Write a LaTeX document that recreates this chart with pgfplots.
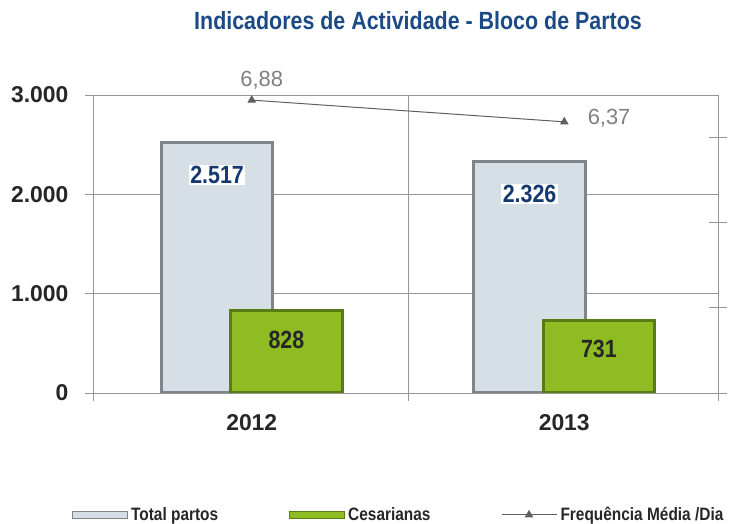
\documentclass[border=0pt]{standalone}
\usepackage{pgfplots}
\pgfplotsset{compat=1.18}
\usepackage{fontspec}
\setmainfont{Liberation Sans}[FakeStretch=0.86]
\newfontfamily\widefont{Liberation Sans}
\definecolor{gridgray}{RGB}{150,150,150}
\definecolor{titleblue}{RGB}{28,74,134}
\definecolor{lblblue}{RGB}{22,56,112}
\definecolor{totFill}{RGB}{214,222,230}
\definecolor{totEdge}{RGB}{128,133,140}
\definecolor{grnFill}{RGB}{142,188,34}
\definecolor{grnEdge}{RGB}{88,124,20}
\definecolor{linegray}{RGB}{95,95,95}
\definecolor{lbl2gray}{RGB}{128,128,128}
\definecolor{darktext}{RGB}{38,38,38}
\begin{document}
\begin{tikzpicture}
\useasboundingbox (0,0) rectangle (745bp,524bp);
\begin{axis}[
  at={(93bp,131bp)}, anchor=south west,
  scale only axis, width=625bp, height=298bp,
  xmin=-0.508, xmax=1.492, ymin=0, ymax=3000,
  axis line style={gridgray, line width=0.8bp},
  xtick={0,1}, xticklabels={2012,2013},
  minor xtick={-0.508,0.5,1.492},
  xminorgrids,
  ytick={0,1000,2000,3000}, yticklabels={0,1.000,2.000,3.000},
  ymajorgrids,
  grid style={gridgray, line width=0.8bp},
  minor grid style={gridgray, line width=0.8bp},
  tick pos=left, tick align=outside,
  major x tick style={draw=none},
  tick style={gridgray, line width=0.8bp},
  major tick length=8bp, minor tick length=8bp,
  /pgf/number format/assume math mode=true,
  tick label style={font=\widefont\fontsize{23}{27}\selectfont\bfseries, text=darktext},
  yticklabel style={xshift=-13bp},
  xticklabel style={yshift=-10bp},
  title={Indicadores de Actividade - Bloco de Partos},
  title style={at={(0.52,1.228)}, anchor=center, font=\fontsize{25}{30}\selectfont\bfseries, text=titleblue},
  legend columns=3,
  legend style={at={(0.49,-0.409)}, anchor=center, draw=none, fill=none,
    font=\fontsize{18}{21}\selectfont\bfseries, text=darktext,
    nodes={inner xsep=3bp},
    /tikz/every even column/.append style={column sep=68bp}},
]
\addplot[ybar, bar width=0.356, bar shift=-0.111, fill=totFill, draw=totEdge, line width=3bp,
  nodes near coords,
  nodes near coords style={font=\fontsize{25}{30}\selectfont\bfseries, text=lblblue, fill=white, inner sep=1.5bp, anchor=center, xshift=-34.7bp, yshift=-32bp},
  /pgf/number format/1000 sep={.},
  /pgf/number format/assume math mode=true,
  legend image code/.code={\fill[totFill, draw=totEdge, line width=1bp] (0bp,-3.5bp) rectangle (55bp,3.5bp);}
] coordinates {(0,2517) (1,2326)};
\addlegendentry{Total partos}
\addplot[ybar, bar width=0.356, bar shift=0.111, fill=grnFill, draw=grnEdge, line width=3bp,
  nodes near coords,
  nodes near coords style={font=\fontsize{25}{30}\selectfont\bfseries, text=darktext, anchor=center, xshift=34.7bp, yshift=-29bp},
  /pgf/number format/assume math mode=true,
  legend image code/.code={\fill[grnFill, draw=grnEdge, line width=1bp] (0bp,-3.5bp) rectangle (55bp,3.5bp);}
] coordinates {(0,828) (1,731)};
\addlegendentry{Cesarianas}
\addlegendimage{legend image code/.code={\draw[linegray, line width=1bp, mark=triangle*, mark size=4bp, mark repeat=2, mark phase=2] plot coordinates {(0bp,0bp) (27bp,0bp) (55bp,0bp)};}}
\addlegendentry{Frequência Média /Dia}
\end{axis}
\begin{axis}[
  at={(93bp,131bp)}, anchor=south west,
  scale only axis, width=625bp, height=298bp,
  xmin=-0.508, xmax=1.492, ymin=0, ymax=7,
  clip=false,
  axis x line=none, axis y line*=right,
  ytick={0,2,4,6}, yticklabels={},
  tick align=center, major tick length=18bp,
  y axis line style={gridgray, line width=0.8bp},
  tick style={gridgray, line width=0.8bp},
]
\addplot[linegray, line width=1bp, mark=triangle*, mark size=4bp] coordinates {(0,6.88) (1,6.37)};
\node[font=\widefont\fontsize{22}{26}\selectfont, text=lbl2gray, anchor=south, xshift=10bp, yshift=7bp] at (axis cs:0,6.88) {6,88};
\node[font=\widefont\fontsize{22}{26}\selectfont, text=lbl2gray, anchor=west, xshift=20bp, yshift=4bp] at (axis cs:1,6.37) {6,37};
\end{axis}
\end{tikzpicture}
\end{document}
